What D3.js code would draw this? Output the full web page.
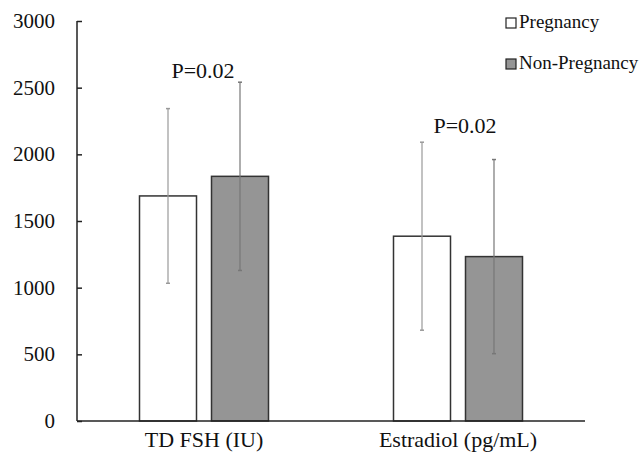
<!DOCTYPE html>
<html>
<head>
<meta charset="utf-8">
<script src="https://cdn.jsdelivr.net/npm/d3@7"></script>
<style>
  body { margin: 0; background: #fff; }
  svg text { font-family: "Liberation Serif", "DejaVu Serif", serif !important; fill: #111; }
</style>
</head>
<body>
<div id="chart"></div>
<script>
// data
const categories = ['TD FSH (IU)', 'Estradiol (pg/mL)'];
const groups = ['Pregnancy', 'Non-Pregnancy'];
const pregnancyMean = [1688, 1386];
const pregnancySD = [655, 705];
const nonPregnancyMean = [1835, 1233];
const nonPregnancySD = [706, 728];
const pLabels = ['P=0.02', 'P=0.02'];
const yTicks = [0, 500, 1000, 1500, 2000, 2500, 3000];

const W = 644, H = 463;
const margin = {top: 21, right: 59, bottom: 42, left: 77};
const colors = {'Pregnancy': '#ffffff', 'Non-Pregnancy': '#959595'};
const serif = '"Liberation Serif", "Times New Roman", serif';

const rows = [];
categories.forEach((c, i) => {
    rows.push({cat: c, group: 'Pregnancy', mean: pregnancyMean[i], sd: pregnancySD[i]});
    rows.push({cat: c, group: 'Non-Pregnancy', mean: nonPregnancyMean[i], sd: nonPregnancySD[i]});
});

const svg = d3.select('#chart').append('svg')
    .attr('width', W)
    .attr('height', H)
    .attr('font-family', serif);

const x = d3.scaleBand().domain(categories).range([margin.left, W - margin.right]);
const y = d3.scaleLinear().domain([0, 3000]).range([H - margin.bottom, margin.top]);

const barW = 57, barGap = 15;
const barX = d => x(d.cat) + x.bandwidth() / 2 + (d.group === 'Pregnancy' ? -barGap / 2 - barW : barGap / 2);

// y axis with inside ticks
const yAxis = svg.append('g')
    .attr('transform', `translate(${margin.left},0)`)
    .call(d3.axisRight(y).tickValues(yTicks).tickSize(5).tickFormat(''));
yAxis.select('.domain').remove();
yAxis.selectAll('line').attr('stroke', '#222').attr('stroke-width', 1.5);
svg.append('line')
    .attr('x1', margin.left).attr('x2', margin.left)
    .attr('y1', y(3000)).attr('y2', y(0))
    .attr('stroke', '#222').attr('stroke-width', 1.5);

svg.selectAll('.ytick-label')
    .data(yTicks)
    .join('text')
    .attr('class', 'ytick-label')
    .attr('x', 55)
    .attr('y', d => y(d) + 7)
    .attr('text-anchor', 'end')
    .style('font-family', serif)
    .style('font-size', '21px')
    .text(d => d);

// bars
svg.selectAll('.bar')
    .data(rows)
    .join('rect')
    .attr('class', 'bar')
    .attr('x', barX)
    .attr('width', barW)
    .attr('y', d => y(d.mean))
    .attr('height', d => y(0) - y(d.mean))
    .attr('fill', d => colors[d.group])
    .attr('stroke', '#333')
    .attr('stroke-width', 1.5);

// error bars
const err = svg.selectAll('.err')
    .data(rows)
    .join('g')
    .attr('class', 'err')
    .attr('transform', d => `translate(${barX(d) + barW / 2},0)`);
err.append('line')
    .attr('y1', d => y(d.mean + d.sd))
    .attr('y2', d => y(d.mean - d.sd))
    .attr('stroke', d => d.group === 'Pregnancy' ? '#999' : '#777')
    .attr('stroke-width', 1.2);
err.selectAll('.cap')
    .data(d => [d.mean + d.sd, d.mean - d.sd].map(v => ({v, g: d.group})))
    .join('line')
    .attr('class', 'cap')
    .attr('x1', -2).attr('x2', 2)
    .attr('y1', d => y(d.v)).attr('y2', d => y(d.v))
    .attr('stroke', d => d.g === 'Pregnancy' ? '#999' : '#777')
    .attr('stroke-width', 1.5);

// baseline
svg.append('line')
    .attr('x1', margin.left).attr('x2', 585)
    .attr('y1', y(0)).attr('y2', y(0))
    .attr('stroke', '#222').attr('stroke-width', 1.5);

// category labels
svg.selectAll('.xlabel')
    .data(categories)
    .join('text')
    .attr('class', 'xlabel')
    .attr('x', d => x(d) + x.bandwidth() / 2)
    .attr('y', 447)
    .attr('text-anchor', 'middle')
    .style('font-family', serif)
    .style('font-size', '22px')
    .text(d => d);

// p values
const pY = [78, 133];
const pX = [203, 465];
svg.selectAll('.pval')
    .data(pLabels)
    .join('text')
    .attr('class', 'pval')
    .attr('x', (d, i) => pX[i])
    .attr('y', (d, i) => pY[i])
    .attr('text-anchor', 'middle')
    .style('font-family', serif)
    .style('font-size', '22px')
    .text(d => d);

// legend
const legend = svg.selectAll('.legend')
    .data(groups)
    .join('g')
    .attr('class', 'legend')
    .attr('transform', (d, i) => `translate(506,${18 + i * 41})`);
legend.append('rect')
    .attr('width', 10).attr('height', 10)
    .attr('fill', d => colors[d])
    .attr('stroke', '#222')
    .attr('stroke-width', 1.2);
legend.append('text')
    .attr('x', 13)
    .attr('y', 10)
    .style('font-family', serif)
    .style('font-size', '19px')
    .text(d => d);
</script>
</body>
</html>
